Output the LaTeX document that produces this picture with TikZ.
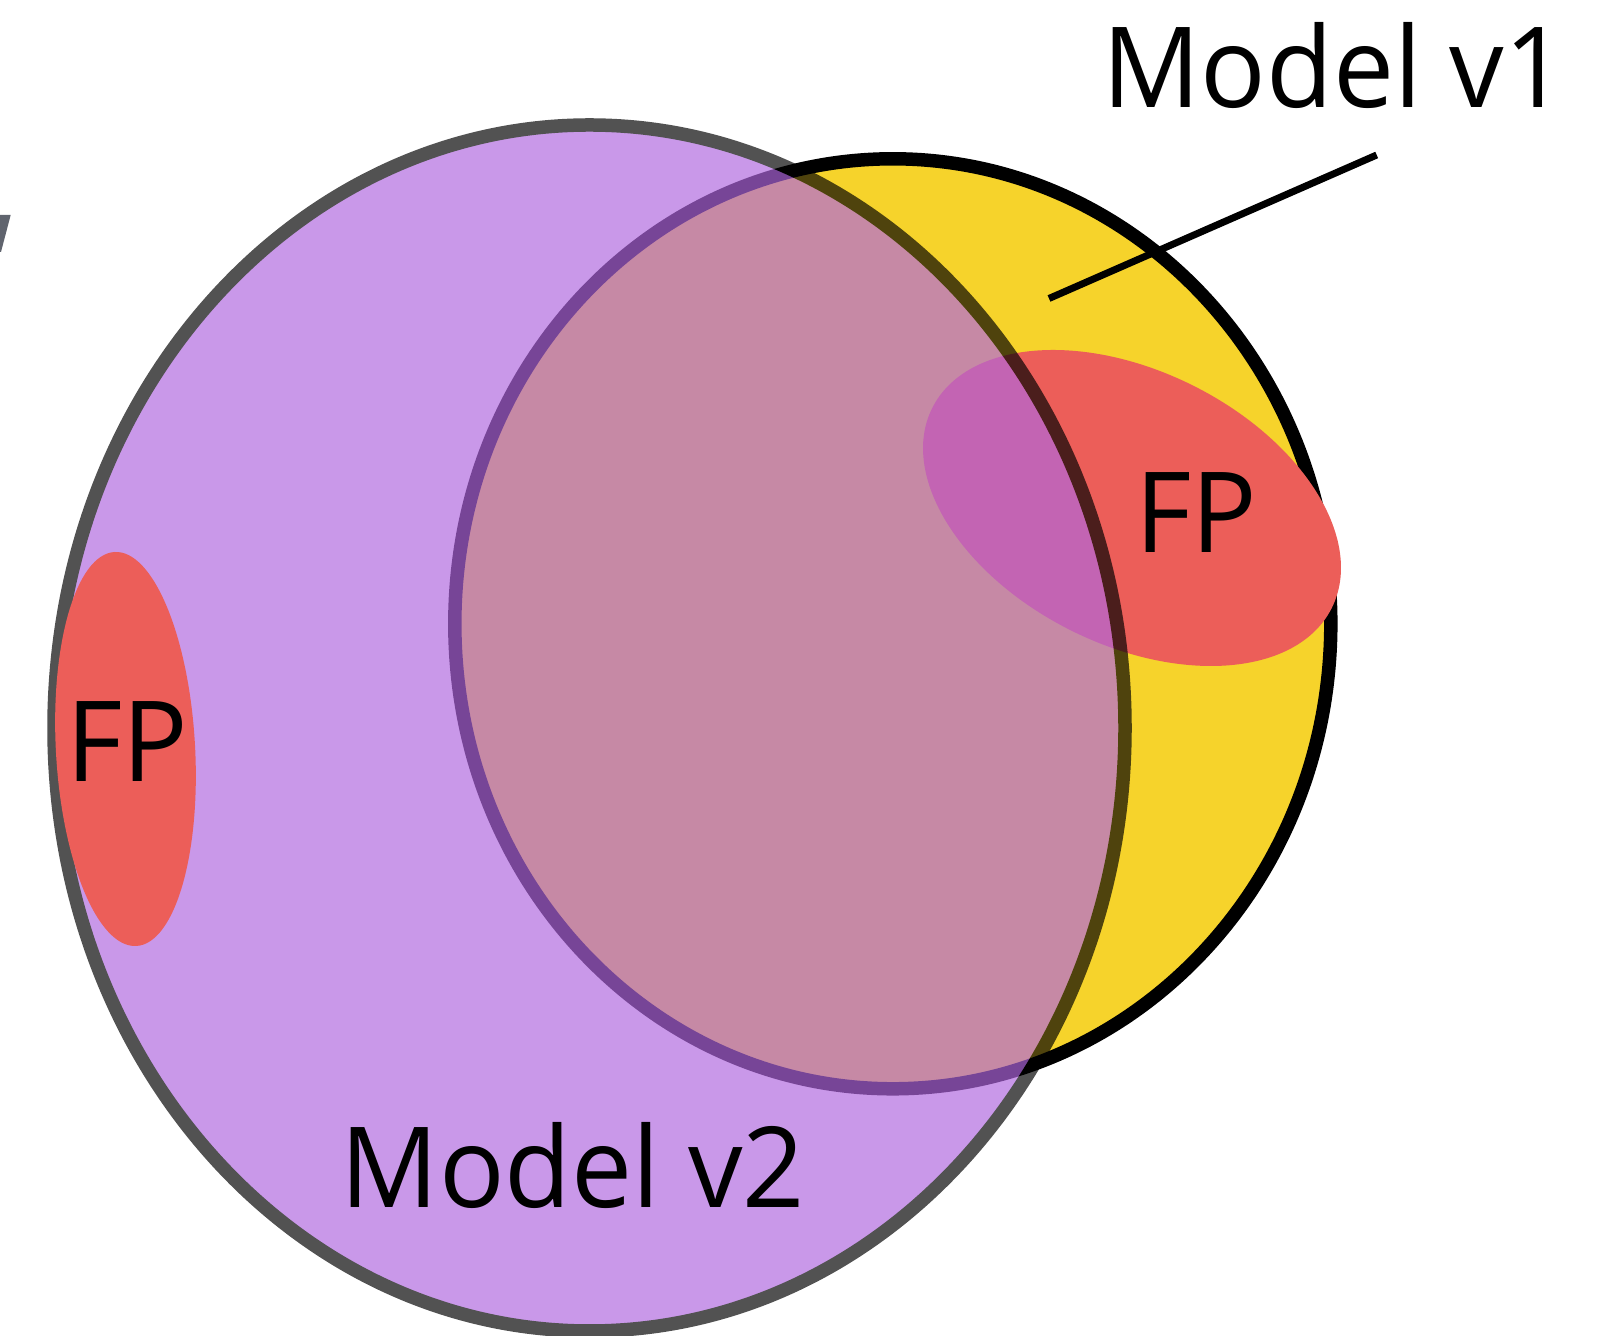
\documentclass[tikz,border=0pt]{standalone}
\usepackage{fontspec}
\usepackage{graphicx}
\setmainfont{Open Sans}
\definecolor{vOneYellow}{RGB}{246,211,43}
\definecolor{fpRed}{RGB}{236,94,89}
\definecolor{vTwoPurple}{RGB}{176,103,223}
\definecolor{markGray}{RGB}{96,100,110}
\newcommand{\setname}[1]{\scalebox{0.972}[1]{#1}}
\tikzset{
  setlabel/.style={inner sep=0pt, anchor=base, font=\fontsize{112}{130}\selectfont},
  ringline/.style={line width=13.5pt},
  leader/.style={draw=black, line width=7pt},
}
\begin{document}
\begin{tikzpicture}[x=1pt, y=1pt]
  \useasboundingbox (0,0) rectangle (1597,1335);

  % stray stroke at the left edge
  \fill[markGray] (0,1120) -- (10.7,1120) -- (1,1083) -- (0,1083) -- cycle;

  % Model v1 set
  \filldraw[fill=vOneYellow, draw=black, ringline]
    (892.8,711.2) ellipse [x radius=438, y radius=465];

  % false positives of v1
  \fill[fpRed] (1132,827) ellipse [x radius=223.4, y radius=136.8, rotate=-26.6];

  % Model v2 set, translucent over v1
  \begin{scope}[transparency group, opacity=0.68]
    \filldraw[fill=vTwoPurple, draw=black, ringline]
      (589.5,607) ellipse [x radius=535.5, y radius=603];
  \end{scope}

  % false positives of v2
  \fill[fpRed] (125.5,586) ellipse [x radius=69.6, y radius=197.3, rotate=3.15];

  % labels
  \node[setlabel] (fpone) at (1196.5,782.3) {\setname{FP}};
  \node[setlabel] (fptwo) at (127.5,553.3) {\setname{FP}};
  \node[setlabel] (vtwo) at (573,127.3) {\setname{Model v2}};
  \node[setlabel] (vone) at (1334.5,1227) {\setname{Model v1}};

  % leader from the v1 label into its set
  \coordinate (leadtail) at (1376.7,1180);
  \coordinate (leadtip) at (1049,1036.5);
  \draw[leader] (leadtail) -- (leadtip);
\end{tikzpicture}
\end{document}
